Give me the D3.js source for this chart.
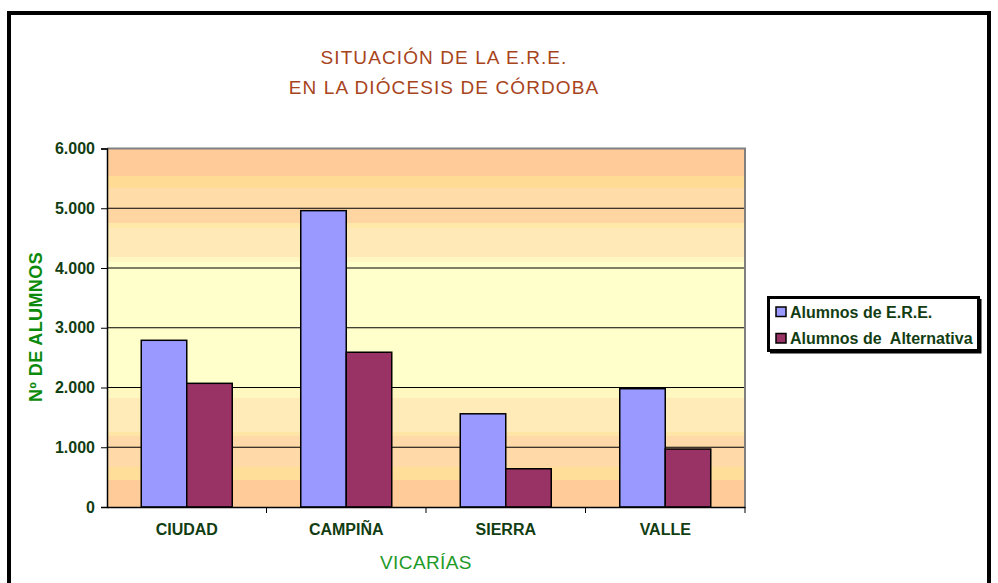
<!DOCTYPE html>
<html><head><meta charset="utf-8">
<script src="https://cdn.jsdelivr.net/npm/d3@7"></script>
<style>body{margin:0;background:#fff}svg{display:block}text{font-family:"Liberation Sans",Arial,sans-serif}</style>
</head><body>
<script>
const categories = ["CIUDAD", "CAMPIÑA", "SIERRA", "VALLE"];
const seriesNames = ["Alumnos de E.R.E.", "Alumnos de  Alternativa"];
const ereValues = [2790, 4960, 1560, 1980];
const altValues = [2070, 2590, 640, 970];
const yTicks = [0, 1000, 2000, 3000, 4000, 5000, 6000];
const yTickLabels = ["0", "1.000", "2.000", "3.000", "4.000", "5.000", "6.000"];
const titleLines = ["SITUACIÓN DE LA E.R.E.", "EN LA DIÓCESIS DE CÓRDOBA"];
const xTitle = "VICARÍAS";
const yTitle = "Nº DE ALUMNOS";

const W = 998, H = 583;
const colors = ["#9999FF", "#993366"];
const svg = d3.select("body").append("svg").attr("width", W).attr("height", H);

// chart frame
svg.append("rect").attr("x", 9).attr("y", 13).attr("width", 980).attr("height", 620)
  .attr("fill", "#fff").attr("stroke", "#000").attr("stroke-width", 4);

const L = 107, R = 745, T = 148.5, B = 507;
const x0 = d3.scaleBand().domain(categories).range([L, R]).padding(0);
const x1 = d3.scaleBand().domain(seriesNames).range([0, x0.bandwidth()]).paddingInner(0).paddingOuter(0.7527);
const y = d3.scaleLinear().domain([0, 6000]).range([B, T]);

// gradient background (banded)
const defs = svg.append("defs");
const grad = defs.append("linearGradient").attr("id", "bg").attr("x1", 0).attr("y1", 0).attr("x2", 0).attr("y2", 1);
const bands = [
  [148.5, "#FFCC99"], [176, "#FFDB94"], [188, "#FFDCA8"], [208, "#FFD6A2"], [223, "#FFE8A8"],
  [228, "#FFE9B6"], [257, "#FFF6C2"], [262, "#FFFFCC"], [388, "#FFF7C0"], [398, "#FFEBB8"],
  [432, "#FFE6A6"], [436, "#FFD9A8"], [467, "#FFDE9A"], [480, "#FFCC99"], [507, null]
];
for (let i = 0; i < bands.length - 1; i++) {
  const a = (bands[i][0] - T) / (B - T), b = (bands[i + 1][0] - T) / (B - T);
  grad.append("stop").attr("offset", Math.max(0, a)).attr("stop-color", bands[i][1]);
  grad.append("stop").attr("offset", Math.min(1, b)).attr("stop-color", bands[i][1]);
}
svg.append("rect").attr("x", L).attr("y", T).attr("width", R - L).attr("height", B - T).attr("fill", "url(#bg)");

// gridlines
svg.append("g").selectAll("line").data(yTicks.filter(d => d > 0 && d < 6000)).join("line")
  .attr("x1", L).attr("x2", R).attr("y1", d => y(d)).attr("y2", d => y(d))
  .attr("stroke", "#000").attr("stroke-width", 1);

// plot border top/right (gray)
svg.append("path").attr("d", `M${L},${T}H${R}V${B}`).attr("fill", "none").attr("stroke", "#808080").attr("stroke-width", 2);

// bars
const data = categories.map((c, i) => ({ c, vals: [ereValues[i], altValues[i]] }));
const g = svg.append("g");
data.forEach(d => {
  d.vals.forEach((v, j) => {
    g.append("rect").attr("x", x0(d.c) + x1(seriesNames[j])).attr("y", y(v))
      .attr("width", x1.bandwidth()).attr("height", B - y(v))
      .attr("fill", colors[j]).attr("stroke", "#000").attr("stroke-width", 1.5);
  });
});

const FF = '"Liberation Sans",Arial,sans-serif';
// Y axis
const yAxis = d3.axisLeft(y).tickValues(yTicks).tickFormat((d, i) => yTickLabels[i]).tickSize(6).tickPadding(6);
const ya = svg.append("g").attr("transform", `translate(${L},0)`).call(yAxis);
ya.select(".domain").attr("stroke", "#000").attr("stroke-width", 1.5);
ya.selectAll(".tick line").attr("stroke", "#000");
ya.selectAll("text").attr("font-size", 16).attr("font-weight", "bold").attr("fill", "#123d12")
  .style("font-family", FF);

// X axis
const xAxis = d3.axisBottom(x0).tickSize(0).tickPadding(17);
const xa = svg.append("g").attr("transform", `translate(0,${B})`).call(xAxis);
xa.select(".domain").attr("stroke", "#000").attr("stroke-width", 1.5);
xa.selectAll("text").attr("font-size", 16).attr("font-weight", "bold").attr("fill", "#123d12")
  .style("font-family", FF);
// boundary tick marks
svg.append("g").selectAll("line").data(categories.slice(1).concat([null])).join("line")
  .attr("x1", (d, i) => i < 3 ? x0(categories[i + 1]) : R).attr("x2", (d, i) => i < 3 ? x0(categories[i + 1]) : R)
  .attr("y1", B).attr("y2", B + 6).attr("stroke", "#000");

// titles
svg.append("g").selectAll("text").data(titleLines).join("text")
  .attr("x", 444).attr("y", (d, i) => 64 + i * 30).attr("text-anchor", "middle")
  .attr("font-size", 19).attr("letter-spacing", 1.1).attr("fill", "#A8441C").text(d => d);
svg.append("text").attr("x", (L + R) / 2).attr("y", 569).attr("text-anchor", "middle")
  .attr("font-size", 19).attr("letter-spacing", 0.4).attr("fill", "#1E9A28").text(xTitle);
svg.append("text").attr("transform", "translate(42,327) rotate(-90)").attr("text-anchor", "middle")
  .attr("font-size", 18).attr("font-weight", "bold").attr("letter-spacing", 0.4).attr("fill", "#0C8A0C").text(yTitle);

// legend
const lg = svg.append("g");
lg.append("rect").attr("x", 768.5).attr("y", 297.5).attr("width", 210).attr("height", 53)
  .attr("fill", "#fff").attr("stroke", "#000").attr("stroke-width", 3);
lg.append("path").attr("d", "M980.5,299V352.5H770").attr("fill", "none").attr("stroke", "#000").attr("stroke-width", 2);
seriesNames.forEach((s, i) => {
  lg.append("rect").attr("x", 776).attr("y", 307 + i * 26.5).attr("width", 10).attr("height", 9.5)
    .attr("fill", colors[i]).attr("stroke", "#000").attr("stroke-width", 1.5);
  lg.append("text").attr("x", 790).attr("y", 317.5 + i * 26.5).attr("font-size", 16).attr("font-weight", "bold")
    .attr("fill", "#123d12").style("white-space", "pre").text(s);
});
</script>
</body></html>
